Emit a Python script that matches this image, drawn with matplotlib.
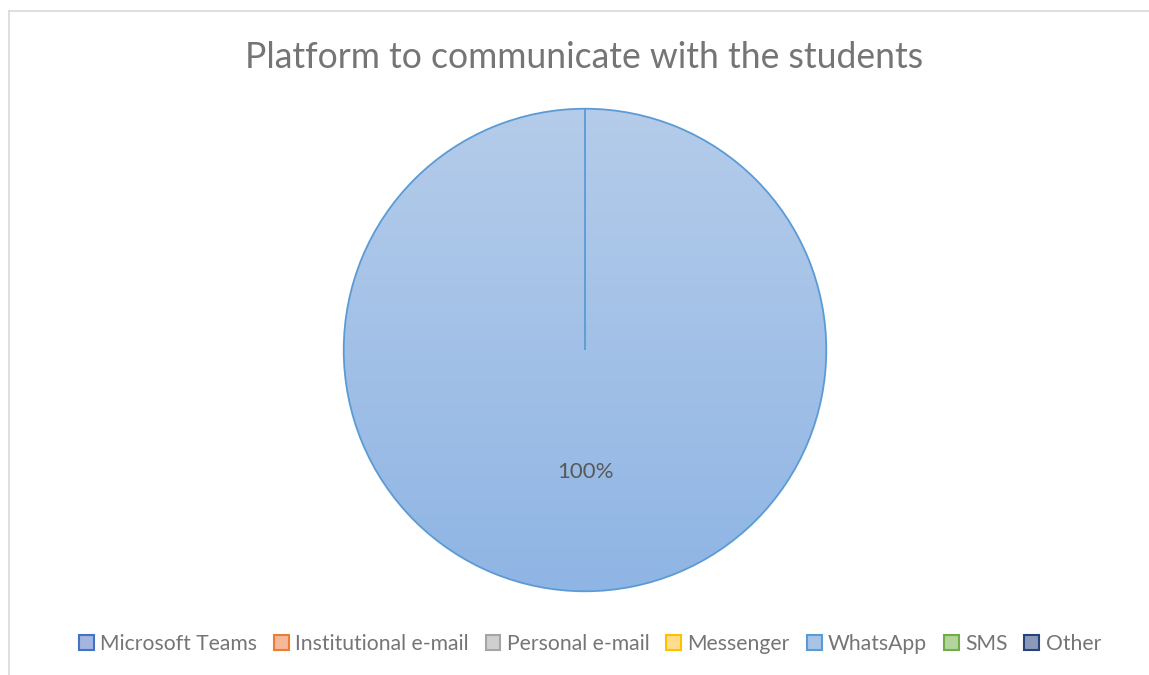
import numpy as np
import matplotlib
matplotlib.use('Agg')
import matplotlib.pyplot as plt
from matplotlib.patches import Patch
from matplotlib.lines import Line2D

# Datos
platforms = ['Microsoft Teams', 'Institutional e-mail', 'Personal e-mail',
             'Messenger', 'WhatsApp', 'SMS', 'Other']
shares = [0, 0, 0, 0, 100, 0, 0]
edge_colors = ['#4472C4', '#ED7D31', '#A5A5A5', '#FFC000', '#5B9BD5', '#70AD47', '#264478']
fill_colors = ['#A3B5E0', '#F6B89A', '#CFCFCF', '#FFDD8C', '#A7C4E6', '#B3D49D', '#8D99B8']

text_col = '#757575'
plt.rcParams['font.family'] = ['Lato', 'DejaVu Sans']

fig = plt.figure(figsize=(11.49, 6.75), dpi=100)
W, H = 1149, 675

# marco del gráfico
fig.add_artist(Line2D([9 / W, 1], [1 - 10.5 / H, 1 - 10.5 / H], color='#D9D9D9', lw=1.2))
fig.add_artist(Line2D([9 / W, 9 / W], [0, 1 - 10.5 / H], color='#D9D9D9', lw=1.2))

cx, cy, r = 585, 350, 242
ax = fig.add_axes([(cx - r) / W, (H - cy - r) / H, 2 * r / W, 2 * r / H])

wedges, _ = ax.pie(shares, colors=fill_colors, startangle=90, counterclock=False,
                   radius=1, wedgeprops=dict(edgecolor=edge_colors[4], linewidth=1.3))
for w, s in zip(wedges, shares):
    if s == 0:
        w.set_visible(False)

# degradado dentro del sector
top = np.array([181, 204, 234]) / 255
bot = np.array([143, 181, 228]) / 255
t = np.linspace(0, 1, 256)[:, None]
grad = (top * (1 - t) + bot * t)[:, None, :]
for w, s in zip(wedges, shares):
    if s > 0:
        img = ax.imshow(grad, extent=[-1, 1, -1, 1], origin='upper', aspect='auto', zorder=0)
        img.set_clip_path(w)
        w.set_facecolor('none')
        w.set_zorder(2)
        # borde radial del sector (un sector de 360° no lo dibuja)
        th = np.deg2rad(w.theta1)
        ax.plot([0, w.r * np.cos(th)], [0, w.r * np.sin(th)], color=edge_colors[4],
                lw=1.3, zorder=3, solid_capstyle='butt')
        ax.text(0, -0.505, f'{s}%', ha='center', va='center', fontsize=16, color='#595959')

ax.set_xlim(-1.003, 1.003)
ax.set_ylim(-1.003, 1.003)
ax.set_aspect('equal')
ax.axis('off')

fig.text(584 / W, 1 - 57 / H, 'Platform to communicate with the students',
         ha='center', va='center', fontsize=25.6, color=text_col)

handles = [Patch(facecolor=f, edgecolor=e, linewidth=1.5) for f, e in zip(fill_colors, edge_colors)]
fig.legend(handles, platforms, loc='center', bbox_to_anchor=(590 / W, 1 - 644 / H), ncol=7,
           frameon=False, fontsize=15.2, labelcolor=text_col, handlelength=0.7, handleheight=0.7,
           handletextpad=0.3, columnspacing=0.8, borderpad=0)

fig.savefig('out.png', dpi=100)
